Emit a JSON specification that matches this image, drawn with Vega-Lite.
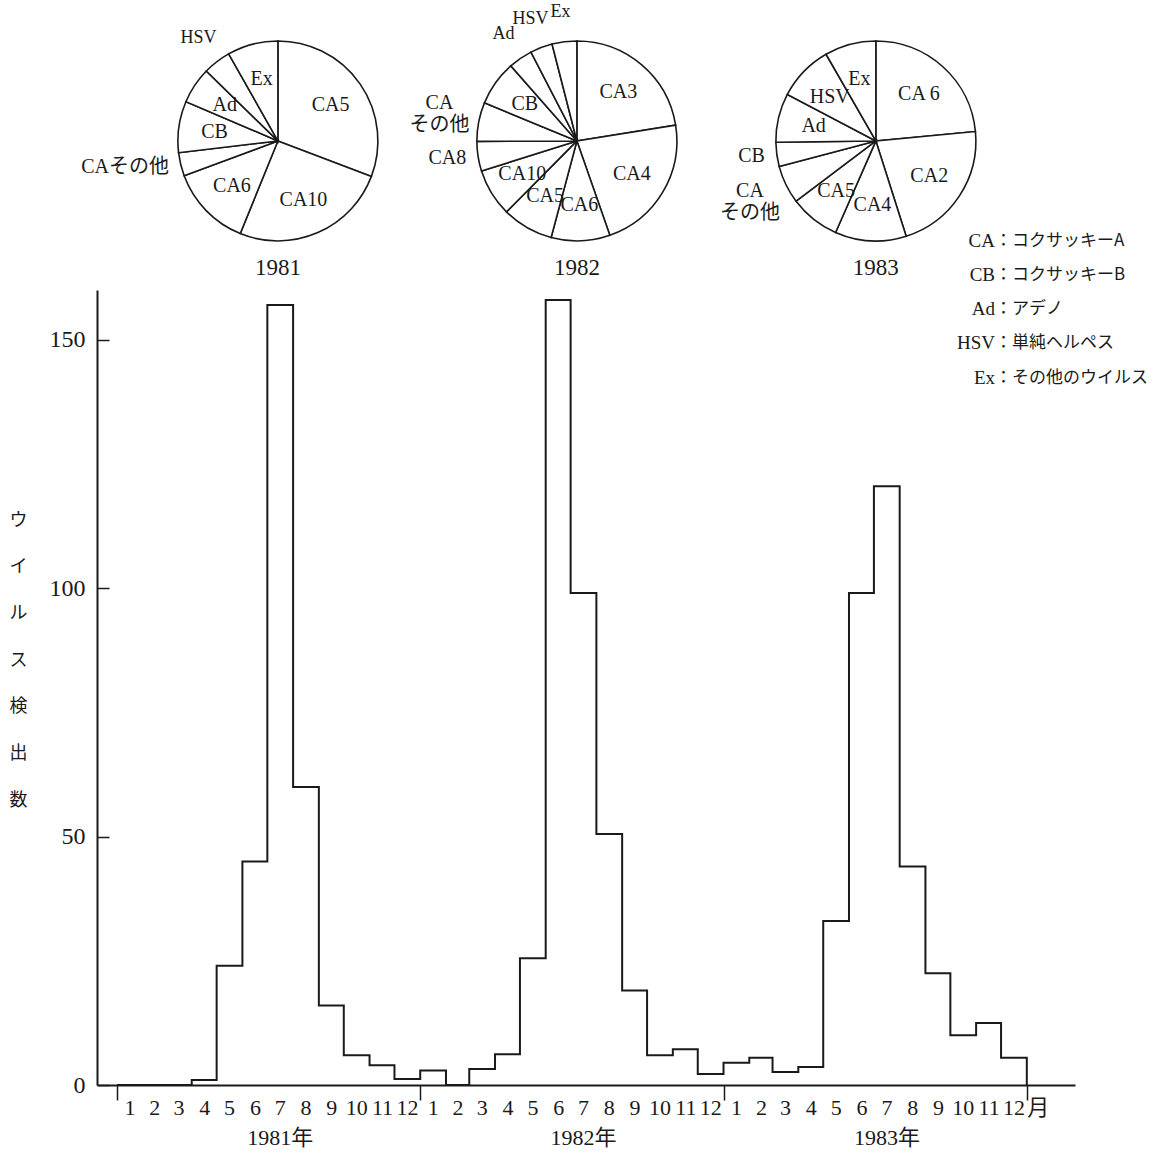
{
  "$schema": "https://vega.github.io/schema/vega-lite/v6.json",
  "width": 978,
  "height": 795,
  "autosize": {"type": "none"},
  "padding": {"left": 97, "top": 290, "right": 90, "bottom": 68},
  "background": "white",
  "config": {"view": {"stroke": null}, "font": "Liberation Serif, Noto Sans CJK JP"},
  "resolve": {"scale": {"x": "independent", "y": "independent"}},
  "layer": [
    {
      "data": {"values": [
        {"month": "1981/01/01", "count": 0}, {"month": "1981/02/01", "count": 0}, {"month": "1981/03/01", "count": 0},
        {"month": "1981/04/01", "count": 1}, {"month": "1981/05/01", "count": 24}, {"month": "1981/06/01", "count": 45},
        {"month": "1981/07/01", "count": 157}, {"month": "1981/08/01", "count": 60}, {"month": "1981/09/01", "count": 16},
        {"month": "1981/10/01", "count": 6}, {"month": "1981/11/01", "count": 4}, {"month": "1981/12/01", "count": 1.2},
        {"month": "1982/01/01", "count": 2.9}, {"month": "1982/02/01", "count": 0}, {"month": "1982/03/01", "count": 3.2},
        {"month": "1982/04/01", "count": 6.2}, {"month": "1982/05/01", "count": 25.5}, {"month": "1982/06/01", "count": 158},
        {"month": "1982/07/01", "count": 99}, {"month": "1982/08/01", "count": 50.5}, {"month": "1982/09/01", "count": 19},
        {"month": "1982/10/01", "count": 6}, {"month": "1982/11/01", "count": 7.2}, {"month": "1982/12/01", "count": 2.2},
        {"month": "1983/01/01", "count": 4.5}, {"month": "1983/02/01", "count": 5.5}, {"month": "1983/03/01", "count": 2.6},
        {"month": "1983/04/01", "count": 3.6}, {"month": "1983/05/01", "count": 33}, {"month": "1983/06/01", "count": 99},
        {"month": "1983/07/01", "count": 120.5}, {"month": "1983/08/01", "count": 44}, {"month": "1983/09/01", "count": 22.5},
        {"month": "1983/10/01", "count": 10}, {"month": "1983/11/01", "count": 12.5}, {"month": "1983/12/01", "count": 5.5},
        {"month": "1984/01/01", "count": 0}
      ]},
      "resolve": {"axis": {"x": "independent", "y": "independent"}},
      "layer": [
        {
          "mark": {"type": "line", "interpolate": "step-after", "color": "#1a1a1a", "strokeWidth": 2},
          "encoding": {
            "x": {
              "field": "month", "type": "temporal",
              "scale": {"domain": [{"year": 1980, "month": 12, "date": 8}, {"year": 1984, "month": 2, "date": 28}], "nice": false},
              "axis": {
                "title": null, "grid": false,
                "values": [
                  {"year": 1981, "month": 1, "date": 1}, {"year": 1982, "month": 1, "date": 1}, {"year": 1983, "month": 1, "date": 1}, {"year": 1984, "month": 1, "date": 1},
                  {"year": 1981, "month": 1, "date": 16}, {"year": 1981, "month": 2, "date": 15}, {"year": 1981, "month": 3, "date": 16}, {"year": 1981, "month": 4, "date": 16},
                  {"year": 1981, "month": 5, "date": 16}, {"year": 1981, "month": 6, "date": 16}, {"year": 1981, "month": 7, "date": 16}, {"year": 1981, "month": 8, "date": 16},
                  {"year": 1981, "month": 9, "date": 16}, {"year": 1981, "month": 10, "date": 16}, {"year": 1981, "month": 11, "date": 16}, {"year": 1981, "month": 12, "date": 16},
                  {"year": 1982, "month": 1, "date": 16}, {"year": 1982, "month": 2, "date": 15}, {"year": 1982, "month": 3, "date": 16}, {"year": 1982, "month": 4, "date": 16},
                  {"year": 1982, "month": 5, "date": 16}, {"year": 1982, "month": 6, "date": 16}, {"year": 1982, "month": 7, "date": 16}, {"year": 1982, "month": 8, "date": 16},
                  {"year": 1982, "month": 9, "date": 16}, {"year": 1982, "month": 10, "date": 16}, {"year": 1982, "month": 11, "date": 16}, {"year": 1982, "month": 12, "date": 16},
                  {"year": 1983, "month": 1, "date": 16}, {"year": 1983, "month": 2, "date": 15}, {"year": 1983, "month": 3, "date": 16}, {"year": 1983, "month": 4, "date": 16},
                  {"year": 1983, "month": 5, "date": 16}, {"year": 1983, "month": 6, "date": 16}, {"year": 1983, "month": 7, "date": 16}, {"year": 1983, "month": 8, "date": 16},
                  {"year": 1983, "month": 9, "date": 16}, {"year": 1983, "month": 10, "date": 16}, {"year": 1983, "month": 11, "date": 16}, {"year": 1983, "month": 12, "date": 16}
                ],
                "labelExpr": "date(datum.value) == 1 ? (year(datum.value) == 1984 ? '月' : '') : (month(datum.value) == 6 ? ['' + (month(datum.value) + 1), '' + year(datum.value) + '年'] : '' + (month(datum.value) + 1))",
                "tickSize": 15, "tickWidth": 1.5, "tickColor": "#1a1a1a",
                "tickOpacity": {"condition": {"test": "date(datum.value) == 1", "value": 1}, "value": 0},
                "labelAlign": {"condition": {"test": "year(datum.value) == 1984", "value": "left"}, "value": "center"},
                "domainColor": "#1a1a1a", "domainWidth": 2,
                "labelFontSize": 22, "labelColor": "#1a1a1a", "labelPadding": -3, "labelLineHeight": 30,
                "labelOverlap": false, "labelFlush": false, "labelBound": false
              }
            },
            "y": {
              "field": "count", "type": "quantitative",
              "scale": {"domain": [0, 160], "nice": false},
              "axis": {
                "values": [0, 50, 100, 150], "grid": false,
                "tickSize": -12, "tickWidth": 1.5, "tickColor": "#1a1a1a", "labelPadding": 24,
                "domainColor": "#1a1a1a", "domainWidth": 2,
                "labelFontSize": 24, "labelColor": "#1a1a1a",
                "title": ["ウ", "イ", "ル", "ス", "検", "出", "数"],
                "titleAngle": 0, "titleX": -79, "titleY": 221, "titleAlign": "center", "titleBaseline": "top",
                "titleLineHeight": 46.7, "titleFontSize": 18, "titleFontWeight": "normal",
                "titleFont": "Noto Sans CJK JP", "titleColor": "#1a1a1a"
              }
            }
          }
        },
        {
          "data": {"values": [{}]},
          "mark": {"type": "text", "fontSize": 19, "align": "right", "baseline": "middle", "lineHeight": 34.2, "color": "#1a1a1a", "font": "Liberation Serif"},
          "encoding": {
            "x": {"datum": {"year": 1983, "month": 11, "date": 23, "hours": 17}, "type": "temporal", "axis": null},
            "y": {"datum": 169.9, "type": "quantitative", "axis": null},
            "text": {"value": ["CA", "CB", "Ad", "HSV", "Ex"]}
          }
        },
        {
          "data": {"values": [{}]},
          "mark": {"type": "text", "fontSize": 17, "align": "left", "baseline": "middle", "lineHeight": 34.2, "color": "#1a1a1a", "font": "Noto Sans CJK JP"},
          "encoding": {
            "x": {"datum": {"year": 1983, "month": 11, "date": 23, "hours": 17}, "type": "temporal", "axis": null},
            "y": {"datum": 169.9, "type": "quantitative", "axis": null},
            "text": {"value": ["：コクサッキーA", "：コクサッキーB", "：アデノ", "：単純ヘルペス", "：その他のウイルス"]}
          }
        }
      ]
    },
    {
      "data": {"values": [
        {"year": 1981, "k": 1, "virus": "CA5", "label": "CA5", "pct": 30.8},
        {"year": 1981, "k": 2, "virus": "CA10", "label": "CA10", "pct": 25.4},
        {"year": 1981, "k": 3, "virus": "CA6", "label": "CA6", "pct": 13.2},
        {"year": 1981, "k": 4, "virus": "CAその他", "label": "CAその他", "pct": 3.8},
        {"year": 1981, "k": 5, "virus": "CB", "label": "CB", "pct": 8.3},
        {"year": 1981, "k": 6, "virus": "Ad", "label": "Ad", "pct": 5.9},
        {"year": 1981, "k": 7, "virus": "HSV", "label": "HSV", "pct": 4.5},
        {"year": 1981, "k": 8, "virus": "Ex", "label": "Ex", "pct": 8.2},
        {"year": 1982, "k": 1, "virus": "CA3", "label": "CA3", "pct": 22.5},
        {"year": 1982, "k": 2, "virus": "CA4", "label": "CA4", "pct": 22.2},
        {"year": 1982, "k": 3, "virus": "CA6", "label": "CA6", "pct": 9.5},
        {"year": 1982, "k": 4, "virus": "CA5", "label": "CA5", "pct": 8.3},
        {"year": 1982, "k": 5, "virus": "CA10", "label": "CA10", "pct": 7.7},
        {"year": 1982, "k": 6, "virus": "CA8", "label": "CA8", "pct": 4.8},
        {"year": 1982, "k": 7, "virus": "CAその他", "label": "CA\nその他", "pct": 6.3},
        {"year": 1982, "k": 8, "virus": "CB", "label": "CB", "pct": 7.3},
        {"year": 1982, "k": 9, "virus": "Ad", "label": "Ad", "pct": 3.9},
        {"year": 1982, "k": 10, "virus": "HSV", "label": "HSV", "pct": 3.6},
        {"year": 1982, "k": 11, "virus": "Ex", "label": "Ex", "pct": 4.0},
        {"year": 1983, "k": 1, "virus": "CA6", "label": "CA 6", "pct": 23.5},
        {"year": 1983, "k": 2, "virus": "CA2", "label": "CA2", "pct": 21.6},
        {"year": 1983, "k": 3, "virus": "CA4", "label": "CA4", "pct": 11.5},
        {"year": 1983, "k": 4, "virus": "CA5", "label": "CA5", "pct": 8.1},
        {"year": 1983, "k": 5, "virus": "CAその他", "label": "CA\nその他", "pct": 6.2},
        {"year": 1983, "k": 6, "virus": "CB", "label": "CB", "pct": 3.9},
        {"year": 1983, "k": 7, "virus": "Ad", "label": "Ad", "pct": 7.9},
        {"year": 1983, "k": 8, "virus": "HSV", "label": "HSV", "pct": 9.0},
        {"year": 1983, "k": 9, "virus": "Ex", "label": "Ex", "pct": 8.3}
      ]},
      "encoding": {
        "x": {"field": "year", "type": "ordinal", "scale": {"type": "point", "padding": 0.6355, "align": 0.476}, "axis": null},
        "y": {"datum": 190, "type": "quantitative", "scale": {"domain": [0, 160], "nice": false, "zero": false}, "axis": null}
      },
      "layer": [
        {
          "transform": [{"filter": "datum.year == 1981"}],
          "encoding": {
            "theta": {"field": "pct", "type": "quantitative", "stack": "normalize"},
            "order": {"field": "k", "type": "quantitative"}
          },
          "layer": [
            {"mark": {"type": "arc", "outerRadius": 100, "fill": "white", "stroke": "#1a1a1a", "strokeWidth": 1.6}},
            {"mark": {"type": "text", "radius": 64, "fontSize": 20, "align": "center", "baseline": "middle", "color": "#1a1a1a"},
             "encoding": {"text": {"condition": {"test": "datum.pct >= 5 && datum.virus != 'CAその他'", "field": "label"}, "value": ""}}},
            {"mark": {"type": "text", "radius": 112, "fontSize": 20, "align": "right", "baseline": "middle", "color": "#1a1a1a"},
             "encoding": {"text": {"condition": {"test": "(datum.pct < 5 || datum.virus == 'CAその他') && indexof(['Ad','HSV','Ex'], datum.virus) < 0 && indexof(datum.label, '\\n') < 0", "field": "label"}, "value": ""}}},
            {"mark": {"type": "text", "radius": 140, "fontSize": 20, "align": "center", "baseline": "middle", "dy": -11, "lineBreak": "\n", "lineHeight": 22, "color": "#1a1a1a"},
             "encoding": {"text": {"condition": {"test": "indexof(datum.label, '\\n') >= 0", "field": "label"}, "value": ""}}},
            {"mark": {"type": "text", "radius": 130, "fontSize": 18, "align": "center", "baseline": "middle", "color": "#1a1a1a"},
             "encoding": {"text": {"condition": {"test": "datum.pct < 5 && indexof(['Ad','HSV','Ex'], datum.virus) >= 0", "field": "label"}, "value": ""}}}
          ]
        },
        {
          "transform": [{"filter": "datum.year == 1982"}],
          "encoding": {
            "theta": {"field": "pct", "type": "quantitative", "stack": "normalize"},
            "order": {"field": "k", "type": "quantitative"}
          },
          "layer": [
            {"mark": {"type": "arc", "outerRadius": 100, "fill": "white", "stroke": "#1a1a1a", "strokeWidth": 1.6}},
            {"mark": {"type": "text", "radius": 64, "fontSize": 20, "align": "center", "baseline": "middle", "color": "#1a1a1a"},
             "encoding": {"text": {"condition": {"test": "datum.pct >= 5 && datum.virus != 'CAその他'", "field": "label"}, "value": ""}}},
            {"mark": {"type": "text", "radius": 112, "fontSize": 20, "align": "right", "baseline": "middle", "color": "#1a1a1a"},
             "encoding": {"text": {"condition": {"test": "(datum.pct < 5 || datum.virus == 'CAその他') && indexof(['Ad','HSV','Ex'], datum.virus) < 0 && indexof(datum.label, '\\n') < 0", "field": "label"}, "value": ""}}},
            {"mark": {"type": "text", "radius": 140, "fontSize": 20, "align": "center", "baseline": "middle", "dy": -11, "lineBreak": "\n", "lineHeight": 22, "color": "#1a1a1a"},
             "encoding": {"text": {"condition": {"test": "indexof(datum.label, '\\n') >= 0", "field": "label"}, "value": ""}}},
            {"mark": {"type": "text", "radius": 130, "fontSize": 18, "align": "center", "baseline": "middle", "color": "#1a1a1a"},
             "encoding": {"text": {"condition": {"test": "datum.pct < 5 && indexof(['Ad','HSV','Ex'], datum.virus) >= 0", "field": "label"}, "value": ""}}}
          ]
        },
        {
          "transform": [{"filter": "datum.year == 1983"}],
          "encoding": {
            "theta": {"field": "pct", "type": "quantitative", "stack": "normalize"},
            "order": {"field": "k", "type": "quantitative"}
          },
          "layer": [
            {"mark": {"type": "arc", "outerRadius": 100, "fill": "white", "stroke": "#1a1a1a", "strokeWidth": 1.6}},
            {"mark": {"type": "text", "radius": 64, "fontSize": 20, "align": "center", "baseline": "middle", "color": "#1a1a1a"},
             "encoding": {"text": {"condition": {"test": "datum.pct >= 5 && datum.virus != 'CAその他'", "field": "label"}, "value": ""}}},
            {"mark": {"type": "text", "radius": 112, "fontSize": 20, "align": "right", "baseline": "middle", "color": "#1a1a1a"},
             "encoding": {"text": {"condition": {"test": "(datum.pct < 5 || datum.virus == 'CAその他') && indexof(['Ad','HSV','Ex'], datum.virus) < 0 && indexof(datum.label, '\\n') < 0", "field": "label"}, "value": ""}}},
            {"mark": {"type": "text", "radius": 140, "fontSize": 20, "align": "center", "baseline": "middle", "dy": -11, "lineBreak": "\n", "lineHeight": 22, "color": "#1a1a1a"},
             "encoding": {"text": {"condition": {"test": "indexof(datum.label, '\\n') >= 0", "field": "label"}, "value": ""}}},
            {"mark": {"type": "text", "radius": 130, "fontSize": 18, "align": "center", "baseline": "middle", "color": "#1a1a1a"},
             "encoding": {"text": {"condition": {"test": "datum.pct < 5 && indexof(['Ad','HSV','Ex'], datum.virus) >= 0", "field": "label"}, "value": ""}}}
          ]
        },
        {
          "transform": [{"filter": "datum.k == 1"}],
          "mark": {"type": "text", "fontSize": 23, "align": "center", "baseline": "middle", "color": "#1a1a1a"},
          "encoding": {
            "y": {"datum": 164.5, "type": "quantitative", "scale": {"domain": [0, 160], "nice": false, "zero": false}, "axis": null},
            "text": {"field": "year", "type": "quantitative", "format": "d"}
          }
        }
      ]
    }
  ]
}
